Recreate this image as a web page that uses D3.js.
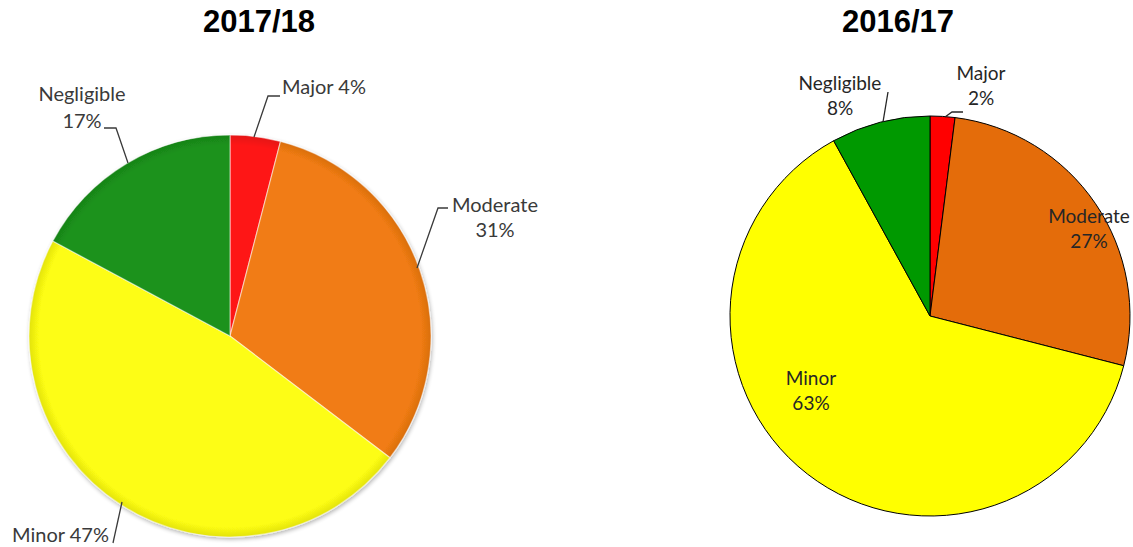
<!DOCTYPE html>
<html>
<head>
<meta charset="utf-8">
<script src="https://cdn.jsdelivr.net/npm/d3@7"></script>
<style>
  body { margin: 0; background: #fff; }
  svg { display: block; }
  .title { font-family: "Liberation Sans", Arial, sans-serif; font-weight: bold; font-size: 31px; }
  .lbl { font-family: Lato, "Open Sans", sans-serif; }
</style>
</head>
<body>
<div id="chart"></div>
<script>
// Data
var categories = ["Major", "Moderate", "Minor", "Negligible"];
var values1718 = [4, 31, 47, 17];
var values1617 = [2, 27, 63, 8];
var titles = ["2017/18", "2016/17"];

var colors1718 = ["#fe1414", "#f17c12", "#fdfd12", "#1b921b"];
var colors1617 = ["#ff0000", "#e46c0a", "#ffff00", "#009900"];

var W = 1133, H = 547;

var svg = d3.select("#chart").append("svg")
  .attr("width", W)
  .attr("height", H);

var defs = svg.append("defs");

// soft edge shading for the left pie
colors1718.forEach(function(c, i) {
  var g = defs.append("radialGradient")
    .attr("id", "soft" + i)
    .attr("gradientUnits", "userSpaceOnUse")
    .attr("cx", 0).attr("cy", 0).attr("r", 201);
  g.append("stop").attr("offset", "0%").attr("stop-color", c);
  g.append("stop").attr("offset", "95%").attr("stop-color", c);
  g.append("stop").attr("offset", "100%").attr("stop-color", d3.color(c).darker(0.3));
});

var shadow = defs.append("filter").attr("id", "shadow")
  .attr("x", "-10%").attr("y", "-10%").attr("width", "120%").attr("height", "120%");
shadow.append("feGaussianBlur").attr("in", "SourceAlpha").attr("stdDeviation", 2);
shadow.append("feOffset").attr("dx", 1).attr("dy", 2).attr("result", "b");
shadow.append("feComponentTransfer").append("feFuncA").attr("type", "linear").attr("slope", 0.3);
var merge = shadow.append("feMerge");
merge.append("feMergeNode");
merge.append("feMergeNode").attr("in", "SourceGraphic");

var pie = d3.pie().sort(null).value(function(d) { return d; });
var radius = 200;
var arc = d3.arc().innerRadius(0).outerRadius(radius);
var arcL = d3.arc().innerRadius(0).outerRadius(201);

// ---- left pie (2017/18)
var left = svg.append("g").attr("transform", "translate(230,336)");
left.append("g").attr("filter", "url(#shadow)")
  .selectAll("path")
  .data(pie(values1718))
  .enter()
  .append("path")
  .attr("d", arcL)
  .attr("fill", function(d, i) { return "url(#soft" + i + ")"; })
  .attr("stroke", "rgba(255,255,255,0.5)")
  .attr("stroke-width", 1.2);

// ---- right pie (2016/17)
var right = svg.append("g").attr("transform", "translate(930,316)");
right.selectAll("path")
  .data(pie(values1617))
  .enter()
  .append("path")
  .attr("d", arc)
  .attr("fill", function(d, i) { return colors1617[i]; })
  .attr("stroke", "#000")
  .attr("stroke-width", 1);

// titles
svg.append("text").attr("class", "title").attr("x", 259).attr("y", 32)
  .attr("text-anchor", "middle").text(titles[0]);
svg.append("text").attr("class", "title").attr("x", 898).attr("y", 32)
  .attr("text-anchor", "middle").text(titles[1]);

// labels
function label(g, x, y, lines, size, anchor, gap, color) {
  var t = g.append("text").attr("class", "lbl")
    .attr("font-size", size)
    .attr("fill", color)
    .attr("text-anchor", anchor || "middle");
  lines.forEach(function(s, i) {
    t.append("tspan").attr("x", x).attr("y", y + i * (gap || 26)).text(s);
  });
}

function leader(points, color) {
  svg.append("path")
    .attr("d", d3.line()(points))
    .attr("fill", "none")
    .attr("stroke", color)
    .attr("stroke-width", 1.3);
}

var pct = function(i, vals) { return vals[i] + "%"; };

// left labels
var cl = "#3a3a3a", cr = "#262626";
label(svg, 82, 101, [categories[3], pct(3, values1718)], 20, "middle", 27, cl);
leader([[104, 128], [116, 128], [128, 163]], cl);
label(svg, 282, 94, [categories[0] + " " + pct(0, values1718)], 20, "start", 26, cl);
leader([[280, 96], [268, 96], [254, 137]], cl);
label(svg, 495, 212, [categories[1], pct(1, values1718)], 20, "middle", 25, cl);
leader([[448, 208], [438, 208], [417, 268]], cl);
label(svg, 12, 542, [categories[2] + " " + pct(2, values1718)], 20, "start", 26, cl);
leader([[113, 543], [122, 502]], cl);

// right labels
label(svg, 840, 90, [categories[3], pct(3, values1617)], 19, "middle", 25, cr);
leader([[888, 92], [883, 122]], cr);
label(svg, 981, 80, [categories[0], pct(0, values1617)], 19, "middle", 25, cr);
leader([[963, 112], [952, 112], [945, 117]], cr);
label(svg, 1089, 223, [categories[1], pct(1, values1617)], 19, "middle", 25, cr);
label(svg, 811, 385, [categories[2], pct(2, values1617)], 19, "middle", 25, cr);
</script>
</body>
</html>
